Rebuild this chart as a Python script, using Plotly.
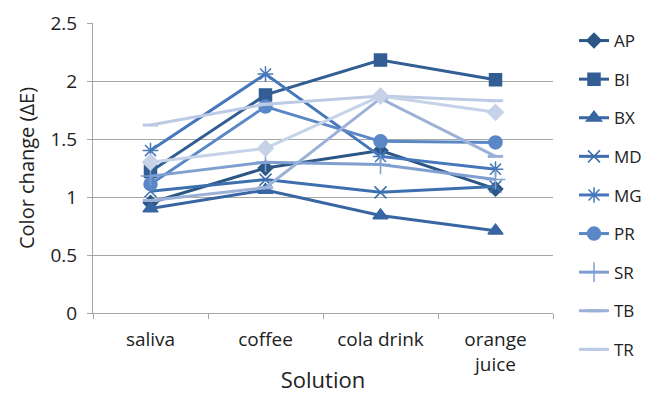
import plotly.graph_objects as go

# Colour change (ΔE) of each material after immersion in four solutions
solutions = ["saliva", "coffee", "cola drink", "orange<br>juice"]

AP = [0.95, 1.25, 1.40, 1.07]
BI = [1.22, 1.88, 2.18, 2.01]
BX = [0.90, 1.06, 0.84, 0.71]
MD = [1.05, 1.15, 1.04, 1.09]
MG = [1.40, 2.06, 1.35, 1.24]
PR = [1.11, 1.78, 1.48, 1.47]
SR = [1.18, 1.30, 1.28, 1.15]
TB = [0.97, 1.08, 1.85, 1.35]
TR = [1.62, 1.80, 1.87, 1.83]
S10 = [1.30, 1.42, 1.87, 1.73]

series = [
    ("AP", AP, "#2C5785", "diamond", 11, True),
    ("BI", BI, "#325E94", "square", 12, True),
    ("BX", BX, "#3866A3", "triangle-up", 13, True),
    ("MD", MD, "#3D6EAE", "x-thin-open", 12, True),
    ("MG", MG, "#4677BA", "asterisk-open", 13, True),
    ("PR", PR, "#5A87C5", "circle", 13, True),
    ("SR", SR, "#7E9FD0", "cross-thin-open", 14, True),
    ("TB", TB, "#9BB1D8", "line-ew-open", 11, True),
    ("TR", TR, "#BCCAE5", "line-ew-open", 11, True),
    ("Series 10", S10, "#C6D2E8", "diamond", 12, False),
]

fig = go.Figure()

for name, vals, color, sym, size, in_legend in series:
    fig.add_trace(go.Scatter(
        x=solutions, y=vals, mode="lines+markers", name=name,
        showlegend=in_legend, legendgroup=name,
        line=dict(color=color, width=3),
        marker=dict(
            symbol=sym, size=size, color=color,
            line=dict(color=color, width=3 if sym.startswith("line") else 1.5),
        ),
    ))

font = "'Open Sans', sans-serif"
fig.update_layout(
    width=662, height=394,
    margin=dict(l=93, r=109, t=23, b=81),
    paper_bgcolor="white", plot_bgcolor="white",
    font=dict(family=font, size=19, color="#222222"),
    legend=dict(
        x=(574 - 93) / 460, xanchor="left", y=1.0, yanchor="top",
        font=dict(size=17, color="#222222"),
        traceorder="grouped", tracegroupgap=13.5,
        itemwidth=30, bgcolor="rgba(0,0,0,0)",
        maxheight=380,
    ),
    xaxis=dict(
        type="category", range=[-0.5, 3.5], automargin=False,
        showline=True, linecolor="#A6A6A6", linewidth=1,
        ticks="outside", ticklen=5, tickcolor="#A6A6A6",
        tickson="boundaries", showgrid=False,
        tickfont=dict(size=19), ticklabelstandoff=9,
        title=dict(text="Solution", font=dict(size=22), standoff=4),
    ),
    yaxis=dict(
        range=[0, 2.5], automargin=False,
        tickvals=[0, 0.5, 1, 1.5, 2, 2.5],
        ticktext=["0", "0.5", "1", "1.5", "2", "2.5"],
        showline=True, linecolor="#A6A6A6", linewidth=1,
        ticks="outside", ticklen=5, tickcolor="#A6A6A6",
        showgrid=True, gridcolor="#A6A6A6", gridwidth=1,
        zeroline=False,
        tickfont=dict(size=19), ticklabelstandoff=6,
        title=dict(text="Color change (ΔE)", font=dict(size=20), standoff=10),
    ),
)

fig.write_html("out.html")
